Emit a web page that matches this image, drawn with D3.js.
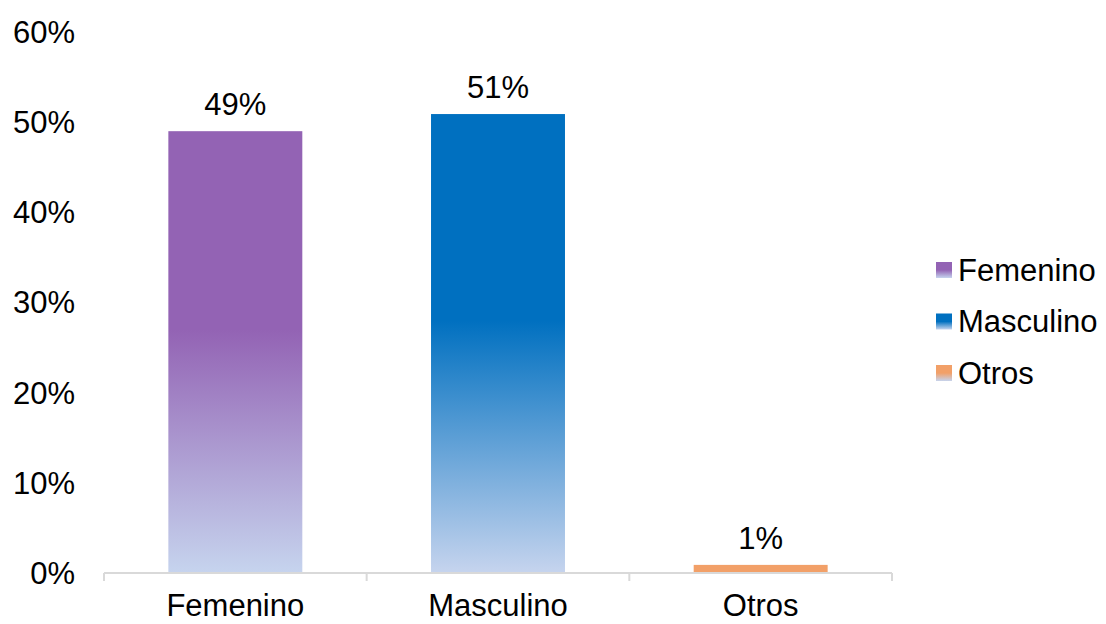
<!DOCTYPE html>
<html lang="es">
<head>
<meta charset="UTF-8">
<title>Sexo</title>
<style>
  body { margin: 0; background: #fff; }
  svg { display: block; font-family: "Liberation Sans", Arial, sans-serif; }
</style>
</head>
<body>
<script src="https://d3js.org/d3.v7.min.js"></script>
<script>
const categories = ["Femenino", "Masculino", "Otros"];
const values = [0.49, 0.509, 0.009];
const colors = ["#9363B4", "#0070C0", "#F2A068"];
const yTicks = [0, 0.1, 0.2, 0.3, 0.4, 0.5, 0.6];

const width = 1106, height = 624;
const plotLeft = 104, plotRight = 892, plotTop = 32, plotBottom = 573;
const fontSize = 31;

const svg = d3.select("body").append("svg")
  .attr("width", width)
  .attr("height", height);

const x = d3.scaleBand()
  .domain(categories)
  .range([plotLeft, plotRight])
  .paddingInner(0.49)
  .paddingOuter(0.245);

const y = d3.scaleLinear()
  .domain([0, 0.6])
  .range([plotBottom, plotTop]);

// gradients: solid on top, fading to pale blue at the base
const defs = svg.append("defs");
colors.forEach((c, i) => {
  const g = defs.append("linearGradient")
    .attr("id", "grad" + i)
    .attr("x1", 0).attr("y1", 0).attr("x2", 0).attr("y2", 1);
  g.append("stop").attr("offset", "0%").attr("stop-color", c);
  g.append("stop").attr("offset", i === 2 ? "100%" : "45%").attr("stop-color", c);
  if (i !== 2) g.append("stop").attr("offset", "100%").attr("stop-color", "#C6D4EE");
  // legend swatch version
  const lg = defs.append("linearGradient")
    .attr("id", "lgrad" + i)
    .attr("x1", 0).attr("y1", 0).attr("x2", 0).attr("y2", 1);
  lg.append("stop").attr("offset", "0%").attr("stop-color", c);
  lg.append("stop").attr("offset", "50%").attr("stop-color", c);
  lg.append("stop").attr("offset", "100%").attr("stop-color", "#C6D4EE");
});

// y tick labels (no axis line)
svg.append("g")
  .selectAll("text")
  .data(yTicks)
  .join("text")
  .attr("x", 75)
  .attr("y", d => y(d))
  .attr("dy", "0.35em")
  .attr("text-anchor", "end")
  .attr("font-size", fontSize)
  .attr("fill", "#000")
  .text(d3.format(".0%"));

// bars
svg.append("g")
  .selectAll("rect")
  .data(values)
  .join("rect")
  .attr("x", (d, i) => x(categories[i]))
  .attr("y", d => y(d))
  .attr("width", x.bandwidth())
  .attr("height", d => plotBottom - y(d))
  .attr("fill", (d, i) => `url(#grad${i})`);

// x axis line with ticks between categories
const step = x.step();
const boundaries = d3.range(categories.length + 1).map(i => plotLeft + i * step);
svg.append("line")
  .attr("x1", plotLeft).attr("x2", plotRight)
  .attr("y1", plotBottom).attr("y2", plotBottom)
  .attr("stroke", "#D9D9D9").attr("stroke-width", 2);
svg.append("g")
  .selectAll("line")
  .data(boundaries)
  .join("line")
  .attr("x1", d => d).attr("x2", d => d)
  .attr("y1", plotBottom).attr("y2", plotBottom + 8)
  .attr("stroke", "#D9D9D9").attr("stroke-width", 2);

// category labels
svg.append("g")
  .selectAll("text")
  .data(categories)
  .join("text")
  .attr("x", d => x(d) + x.bandwidth() / 2)
  .attr("y", 605)
  .attr("dy", "0.35em")
  .attr("text-anchor", "middle")
  .attr("font-size", fontSize)
  .text(d => d);

// value labels
svg.append("g")
  .selectAll("text")
  .data(values)
  .join("text")
  .attr("x", (d, i) => x(categories[i]) + x.bandwidth() / 2)
  .attr("y", d => y(d) - 27)
  .attr("dy", "0.35em")
  .attr("text-anchor", "middle")
  .attr("font-size", fontSize)
  .text(d3.format(".0%"));

// legend
const legend = svg.append("g")
  .selectAll("g")
  .data(categories)
  .join("g")
  .attr("transform", (d, i) => `translate(936, ${270 + i * 51.5})`);
legend.append("rect")
  .attr("x", 0).attr("y", -8)
  .attr("width", 16).attr("height", 16)
  .attr("fill", (d, i) => `url(#lgrad${i})`);
legend.append("text")
  .attr("x", 22)
  .attr("dy", "0.35em")
  .attr("font-size", fontSize)
  .text(d => d);
</script>
</body>
</html>
